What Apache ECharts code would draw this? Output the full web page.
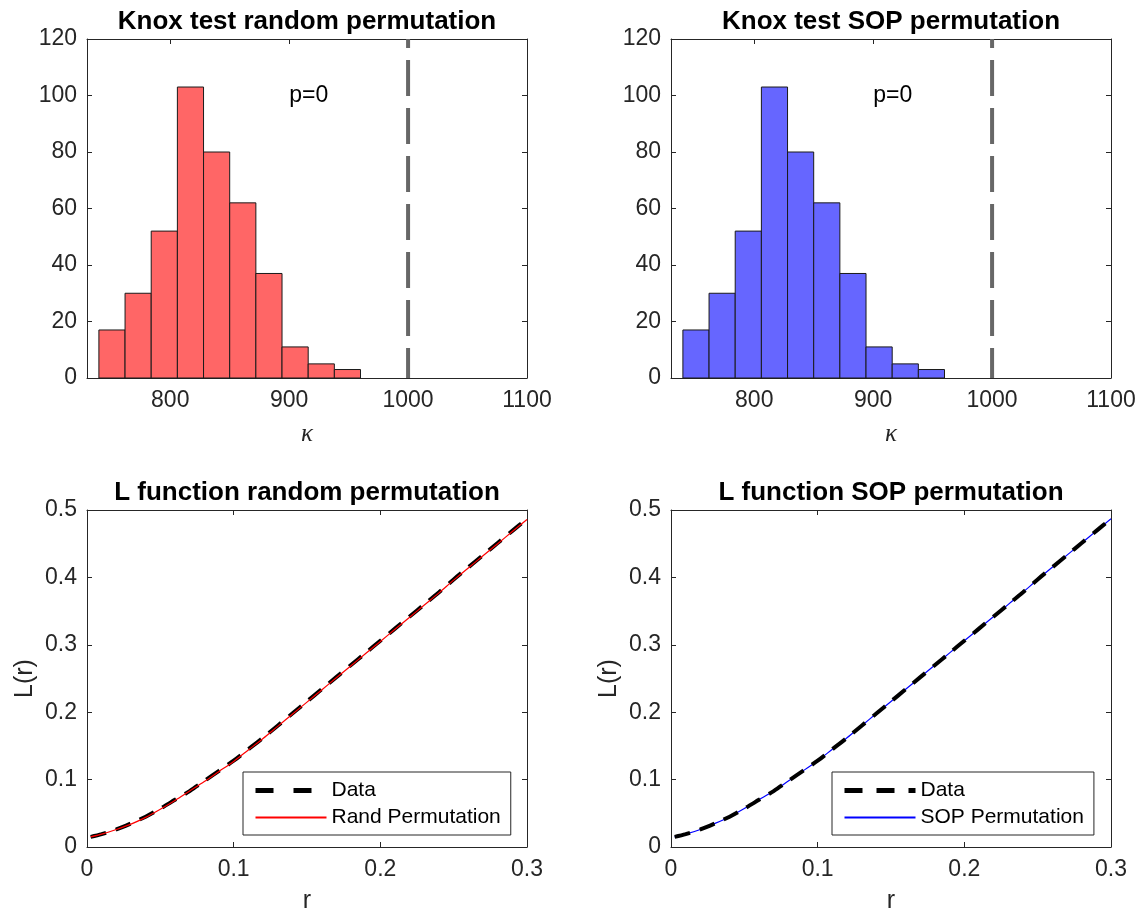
<!DOCTYPE html>
<html><head><meta charset="utf-8">
<script src="https://cdn.jsdelivr.net/npm/echarts@6/dist/echarts.min.js"></script>
<style>html,body{margin:0;padding:0;background:#fff}#chart{width:1141px;height:915px}</style>
</head><body><div id="chart"></div>
<script>
// ---- data ----
const binEdges = [740, 762, 784, 806, 828, 850, 872, 894, 916, 938, 960];
const countsRandom = [17, 30, 52, 103, 80, 62, 37, 11, 5, 3];
const countsSOP = [17, 30, 52, 103, 80, 62, 37, 11, 5, 3];
const observedKappa = 1000;
const pValueText = 'p=0';
const pTextPos = [900, 100];
const histXTicks = [800, 900, 1000, 1100];
const rValues = [0.0025, 0.01, 0.02, 0.03, 0.04, 0.05, 0.06, 0.07, 0.08, 0.09, 0.10,
  0.11, 0.12, 0.13, 0.14, 0.15, 0.16, 0.17, 0.18, 0.19, 0.20,
  0.21, 0.22, 0.23, 0.24, 0.25, 0.26, 0.27, 0.28, 0.29, 0.30];
const lData = [0.015, 0.019, 0.026, 0.035, 0.045, 0.057, 0.070, 0.083, 0.098, 0.113, 0.128,
  0.145, 0.162, 0.180, 0.198, 0.216, 0.234, 0.252, 0.270, 0.288, 0.306,
  0.324, 0.342, 0.360, 0.378, 0.397, 0.415, 0.433, 0.451, 0.469, 0.487];
const lRandPerm = [0.015, 0.019, 0.026, 0.034, 0.044, 0.056, 0.069, 0.083, 0.097, 0.112, 0.127,
  0.144, 0.161, 0.179, 0.197, 0.215, 0.233, 0.251, 0.269, 0.287, 0.305,
  0.323, 0.341, 0.359, 0.377, 0.396, 0.414, 0.432, 0.450, 0.468, 0.486];
const lSOPPerm = [0.015, 0.019, 0.026, 0.035, 0.045, 0.057, 0.070, 0.083, 0.098, 0.113, 0.128,
  0.145, 0.162, 0.180, 0.198, 0.216, 0.234, 0.252, 0.270, 0.288, 0.306,
  0.324, 0.342, 0.360, 0.378, 0.397, 0.415, 0.433, 0.451, 0.469, 0.487];
const titles = ['Knox test random permutation', 'Knox test SOP permutation',
  'L function random permutation', 'L function SOP permutation'];

// ---- style ----
const FONT = "'Liberation Sans', Arial, Helvetica, sans-serif";
const AX = '#262626';
const grids = [
  {left: 87, top: 39, width: 440, height: 339},
  {left: 671, top: 39, width: 440, height: 339},
  {left: 87, top: 510, width: 440, height: 339},
  {left: 671, top: 510, width: 440, height: 339}
];
const plainNum = v => String(Math.round(v * 1000) / 1000);

function xAxes(g, cfg) {
  const base = {
    type: 'value', gridIndex: g, min: cfg.min, max: cfg.max,
    splitLine: {show: false},
    axisLine: {show: true, onZero: false, lineStyle: {color: AX, width: 1}},
    axisTick: {show: true, inside: true, length: 5, lineStyle: {color: AX}},
    axisLabel: {color: AX, fontSize: 23, fontFamily: FONT, margin: 11, formatter: plainNum}
  };
  if (cfg.interval) base.interval = cfg.interval;
  if (cfg.ticks) { base.axisTick.customValues = cfg.ticks; base.axisLabel.customValues = cfg.ticks; }
  const bottom = Object.assign({}, base, {position: 'bottom'});
  if (cfg.name) {
    bottom.name = cfg.name; bottom.nameLocation = 'middle'; bottom.nameGap = cfg.nameGap;
    bottom.nameTextStyle = Object.assign({color: AX, fontSize: 25, fontFamily: FONT}, cfg.nameStyle || {});
  }
  const top = Object.assign({}, base, {position: 'top',
    axisLabel: Object.assign({}, base.axisLabel, {show: false})});
  return [bottom, top];
}
function yAxes(g, cfg) {
  const base = {
    type: 'value', gridIndex: g, min: cfg.min, max: cfg.max, interval: cfg.interval,
    splitLine: {show: false},
    axisLine: {show: true, onZero: false, lineStyle: {color: AX, width: 1}},
    axisTick: {show: true, inside: true, length: 5, lineStyle: {color: AX}},
    axisLabel: {color: AX, fontSize: 23, fontFamily: FONT, margin: 10, formatter: plainNum}
  };
  const left = Object.assign({}, base, {position: 'left'});
  if (cfg.name) {
    left.name = cfg.name; left.nameLocation = 'middle'; left.nameGap = cfg.nameGap;
    left.nameTextStyle = {color: AX, fontSize: 25, fontFamily: FONT};
  }
  const right = Object.assign({}, base, {position: 'right',
    axisLabel: Object.assign({}, base.axisLabel, {show: false})});
  return [left, right];
}

const histX = {min: 730, max: 1100, ticks: histXTicks, name: 'κ', nameGap: 44,
  nameStyle: {fontStyle: 'italic', fontFamily: "'Liberation Serif', 'DejaVu Serif', serif"}};
const histY = {min: 0, max: 120, interval: 20};
const lX = {min: 0, max: 0.3, interval: 0.1, name: 'r', nameGap: 42};
const lY = {min: 0, max: 0.5, interval: 0.1, name: 'L(r)', nameGap: 49};

const xAxis = [].concat(xAxes(0, histX), xAxes(1, histX), xAxes(2, lX), xAxes(3, lX));
const yAxis = [].concat(yAxes(0, histY), yAxes(1, histY), yAxes(2, lY), yAxes(3, lY));

function histSeries(g, counts, color) {
  return {
    type: 'custom', xAxisIndex: 2 * g, yAxisIndex: 2 * g, silent: true, z: 2,
    data: counts.map((c, i) => [binEdges[i], binEdges[i + 1], c]),
    encode: {x: [0, 1], y: 2},
    renderItem: (params, api) => {
      const p0 = api.coord([api.value(0), 0]);
      const p1 = api.coord([api.value(1), api.value(2)]);
      return {type: 'rect',
        shape: {x: p0[0], y: p1[1], width: p1[0] - p0[0], height: p0[1] - p1[1]},
        style: {fill: color, stroke: '#1a1a1a', lineWidth: 1}};
    }
  };
}
function obsLine(g) {
  return {
    type: 'line', xAxisIndex: 2 * g, yAxisIndex: 2 * g, silent: true, z: 3,
    data: [[observedKappa, histY.max], [observedKappa, histY.min]],
    symbol: 'none',
    lineStyle: {color: '#676767', width: 4, type: [36, 12], dashOffset: 27, cap: 'butt'}
  };
}
function pText(g) {
  return {
    type: 'custom', xAxisIndex: 2 * g, yAxisIndex: 2 * g, silent: true, z: 4,
    data: [[pTextPos[0], pTextPos[1]]],
    renderItem: (params, api) => {
      const p = api.coord([api.value(0), api.value(1)]);
      return {type: 'text', x: p[0], y: p[1],
        style: {text: pValueText, fill: '#000', fontSize: 23, fontFamily: FONT,
          align: 'left', verticalAlign: 'middle'}};
    }
  };
}
function lineSeries(g, name, ys, color, width, type, z) {
  return {
    type: 'line', name: name, xAxisIndex: 2 * g, yAxisIndex: 2 * g, z: z,
    data: rValues.map((r, i) => [r, ys[i]]),
    symbol: 'none', smooth: 0.3, silent: true,
    lineStyle: {color: color, width: width, type: type, cap: 'butt'},
    itemStyle: {color: color}
  };
}

const series = [
  histSeries(0, countsRandom, '#ff6666'), obsLine(0), pText(0),
  histSeries(1, countsSOP, '#6666ff'), obsLine(1), pText(1),
  lineSeries(2, 'Data', lData, '#000000', 4, [16, 10], 2),
  lineSeries(2, 'Rand Permutation', lRandPerm, '#ff0000', 1.2, 'solid', 3),
  lineSeries(3, 'SOP Permutation', lSOPPerm, '#0000ff', 1.2, 'solid', 2),
  lineSeries(3, 'Data', lData, '#000000', 4, [16, 10], 3)
];

const legendBase = {
  orient: 'vertical', top: 772, padding: [8, 10, 7, 10],
  borderColor: AX, borderWidth: 1, backgroundColor: '#ffffff',
  itemWidth: 71, itemHeight: 14, itemGap: 6, selectedMode: false,
  itemStyle: {opacity: 0},
  textStyle: {fontSize: 21, fontFamily: FONT, color: '#000', lineHeight: 21}
};
const legend = [
  Object.assign({}, legendBase, {left: 243, data: [
    {name: 'Data', lineStyle: {width: 5, type: [18, 20], cap: 'butt'}},
    'Rand Permutation']}),
  Object.assign({}, legendBase, {left: 832, data: [
    {name: 'Data', lineStyle: {width: 5, type: [18, 14], cap: 'butt'}},
    'SOP Permutation']})
];

const title = titles.map((t, i) => ({
  text: t, left: grids[i].left + grids[i].width / 2, top: i < 2 ? 9 : 480,
  textAlign: 'center', padding: 0,
  textStyle: {fontSize: 26, fontWeight: 'bold', fontFamily: FONT, color: '#000'}
}));

const chart = echarts.init(document.getElementById('chart'), null, {renderer: 'canvas'});
chart.setOption({
  animation: false, backgroundColor: '#ffffff',
  title: title, grid: grids, xAxis: xAxis, yAxis: yAxis, legend: legend, series: series
});
</script></body></html>
